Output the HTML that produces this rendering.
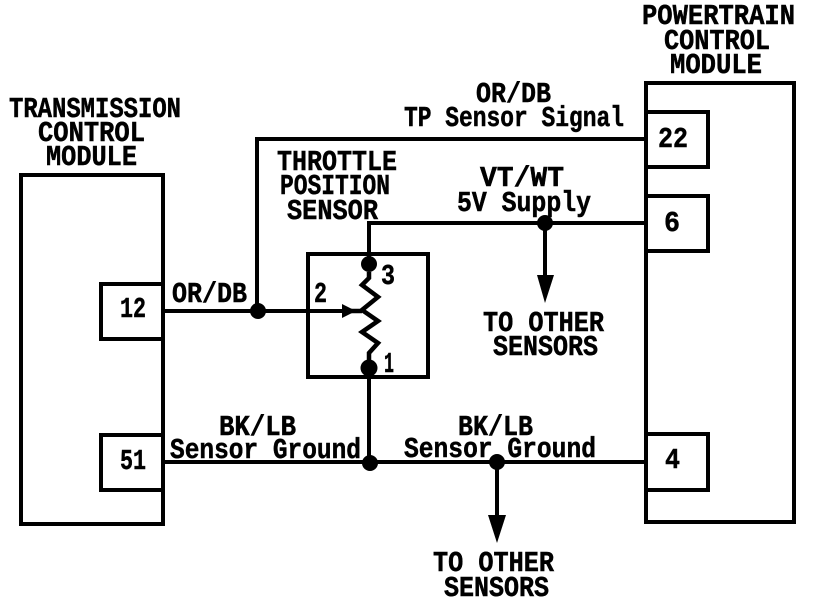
<!DOCTYPE html>
<html><head><meta charset="utf-8"><style>
html,body{margin:0;padding:0;background:#fff;width:816px;height:602px;overflow:hidden}
svg{display:block}
text{font-family:"Liberation Mono","DejaVu Sans Mono",monospace;font-weight:bold;fill:#000;stroke:#000;stroke-width:.5px;font-size:29px}
</style></head><body>
<svg width="816" height="602" viewBox="0 0 816 602" xmlns="http://www.w3.org/2000/svg">
<g fill="none" stroke="#000" stroke-width="4">
<rect x="21" y="175" width="142" height="349"/>
<rect x="646" y="83" width="148" height="439"/>
<rect x="646" y="112" width="62" height="55"/>
<rect x="646" y="196" width="62" height="55"/>
<rect x="646" y="434" width="62" height="56"/>
<rect x="101" y="284" width="62" height="55"/>
<rect x="101" y="435" width="62" height="55"/>
<rect x="308" y="254" width="120" height="123"/>
<path d="M646 139H257V311M163 311H345M646 223H369V264M369 368V463M163 462H646M545 223V276M497 462V516"/>
<path stroke-width="4.5" d="M369 272V278L362 285L378 297L362 310L378 321L362 332L378 343L369 353V365M362 311H350"/>
</g>
<circle cx="369" cy="264" r="8"/><circle cx="369" cy="368" r="8.5"/>
<circle cx="258" cy="311" r="8"/><circle cx="545" cy="223" r="8"/>
<circle cx="370" cy="463" r="8"/><circle cx="497" cy="462" r="8"/>
<polygon points="342,304 356,311 342,318"/>
<polygon points="537,275 554,275 545,303"/>
<polygon points="488,515 506,515 497,543"/>
<text x="9" y="117" textLength="172" lengthAdjust="spacingAndGlyphs">TRANSMISSION</text>
<text x="38" y="141" textLength="107" lengthAdjust="spacingAndGlyphs">CONTROL</text>
<text x="46" y="165" textLength="91" lengthAdjust="spacingAndGlyphs">MODULE</text>
<text x="642" y="24" textLength="153" lengthAdjust="spacingAndGlyphs">POWERTRAIN</text>
<text x="664" y="49" textLength="106" lengthAdjust="spacingAndGlyphs">CONTROL</text>
<text x="670" y="73" textLength="92" lengthAdjust="spacingAndGlyphs">MODULE</text>
<text x="277" y="170" textLength="120" lengthAdjust="spacingAndGlyphs">THROTTLE</text>
<text x="280" y="194" textLength="110" lengthAdjust="spacingAndGlyphs">POSITION</text>
<text x="287" y="219" textLength="91" lengthAdjust="spacingAndGlyphs">SENSOR</text>
<text x="476" y="102" textLength="75" lengthAdjust="spacingAndGlyphs">OR/DB</text>
<text x="404" y="126" textLength="220" lengthAdjust="spacingAndGlyphs">TP Sensor Signal</text>
<text x="480" y="186" textLength="84" lengthAdjust="spacingAndGlyphs">VT/WT</text>
<text x="457" y="211" textLength="134" lengthAdjust="spacingAndGlyphs">5V Supply</text>
<text x="172" y="302" textLength="75" lengthAdjust="spacingAndGlyphs">OR/DB</text>
<text x="120" y="317" textLength="26" lengthAdjust="spacingAndGlyphs">12</text>
<text x="658" y="147" textLength="30" lengthAdjust="spacingAndGlyphs">22</text>
<text x="664" y="231" textLength="16" lengthAdjust="spacingAndGlyphs">6</text>
<text x="665" y="468" textLength="15" lengthAdjust="spacingAndGlyphs">4</text>
<text x="120" y="469" textLength="26" lengthAdjust="spacingAndGlyphs">51</text>
<text x="219" y="435" textLength="77" lengthAdjust="spacingAndGlyphs">BK/LB</text>
<text x="170" y="458" textLength="191" lengthAdjust="spacingAndGlyphs">Sensor Ground</text>
<text x="458" y="435" textLength="75" lengthAdjust="spacingAndGlyphs">BK/LB</text>
<text x="404" y="457" textLength="192" lengthAdjust="spacingAndGlyphs">Sensor Ground</text>
<text x="483" y="331" textLength="121" lengthAdjust="spacingAndGlyphs">TO OTHER</text>
<text x="493" y="355" textLength="105" lengthAdjust="spacingAndGlyphs">SENSORS</text>
<text x="433" y="571" textLength="121" lengthAdjust="spacingAndGlyphs">TO OTHER</text>
<text x="444" y="596" textLength="105" lengthAdjust="spacingAndGlyphs">SENSORS</text>
<text x="314" y="302" textLength="13" lengthAdjust="spacingAndGlyphs">2</text>
<text x="381" y="284" textLength="14" lengthAdjust="spacingAndGlyphs">3</text>
<text x="384" y="372" textLength="10" lengthAdjust="spacingAndGlyphs">1</text>
</svg>
</body></html>
